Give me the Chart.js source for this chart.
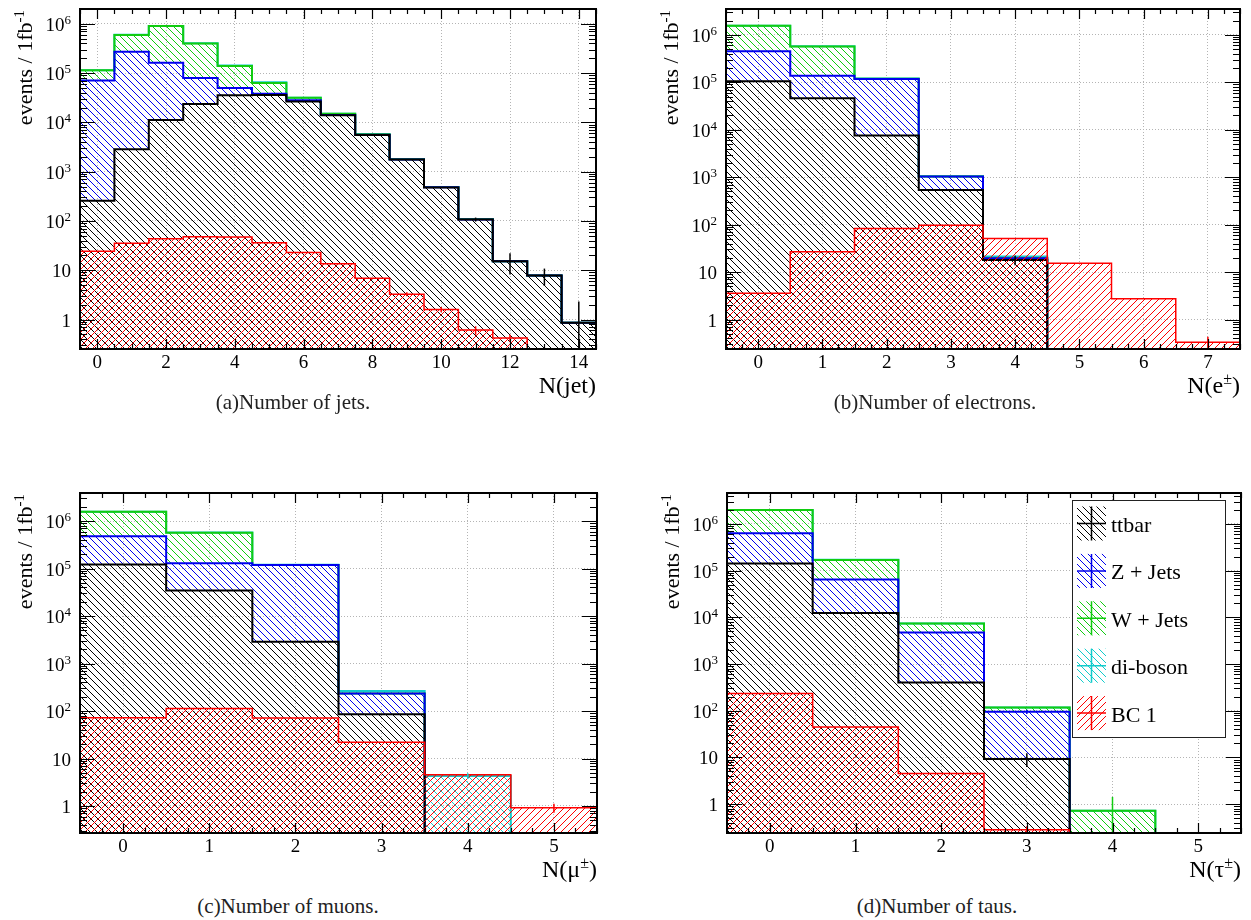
<!DOCTYPE html>
<html lang="en">
<head>
<meta charset="UTF-8">
<title>Object multiplicities</title>
<script src="https://cdn.jsdelivr.net/npm/chart.js"></script>
<style>
  body { margin: 0; background: #fff; }
  .page { position: relative; width: 1251px; height: 920px; overflow: hidden; }
  .page canvas { position: absolute; }
  .caption {
    position: absolute; width: 400px; text-align: center;
    font-family: 'Liberation Serif', serif; font-size: 21px; line-height: 21px; color: #222;
  }
</style>
</head>
<body>
<div class="page">
  <canvas id="jets" width="625" height="400" style="left:0;top:0"></canvas>
  <canvas id="electrons" width="626" height="400" style="left:625px;top:0"></canvas>
  <canvas id="muons" width="625" height="400" style="left:0;top:483px"></canvas>
  <canvas id="taus" width="626" height="400" style="left:625px;top:483px"></canvas>
  <div class="caption" style="left:93px;top:392px">(a)Number of jets.</div>
  <div class="caption" style="left:735px;top:392px">(b)Number of electrons.</div>
  <div class="caption" style="left:88px;top:896px">(c)Number of muons.</div>
  <div class="caption" style="left:737px;top:896px">(d)Number of taus.</div>
</div>

<script>
  // events / 1 fb-1 per bin, bins start at 0
  const processNames = ['ttbar', 'Z + Jets', 'W + Jets', 'di-boson', 'BC 1'];
  const decadeTicks = [1, 10, 100, 1e3, 1e4, 1e5, 1e6];

  // N(jet), bins 0..14
  const jetTicks   = [0, 2, 4, 6, 8, 10, 12, 14];
  const jetTtbar   = [258, 2850, 11200, 23700, 35500, 36000, 26400, 13900, 5580, 1760, 480, 107, 15.2, 7.8, 0.86];
  const jetZjets   = [70700, 270000, 152000, 56300, 14500, 2000, 1600, 300, 60, 10, 2, 0.3, 0, 0, 0];
  const jetWjets   = [43000, 323000, 743000, 320000, 90000, 25000, 3500, 700, 100, 25, 6, 2, 0, 0, 0];
  const jetDiboson = [300, 1500, 2500, 2000, 3000, 2000, 300, 60, 15, 4, 1, 0, 0, 0, 0];
  const jetBC1     = [24.3, 35.3, 43.4, 47.6, 47, 36, 23, 13.5, 6.9, 3.26, 1.6, 0.61, 0.42, 0, 0];
  const jetTtbarErr = [0, 0, 0, 0, 0, 0, 0, 0, 0, 0, 0, 10, 7, 3, 1.45];
  const jetBC1Err   = [0, 0, 0, 0, 0, 0, 0, 0, 0, 0.3, 0.2, 0.12, 0.07, 0, 0];
  const jetYRange   = [0.252, 2.0e6];

  // N(e), bins 0..7
  const eleTicks   = [0, 1, 2, 3, 4, 5, 6, 7];
  const eleTtbar   = [105000, 46000, 7580, 540, 18, 0, 0, 0];
  const eleZjets   = [343000, 92000, 110000, 490, 1.5, 0, 0, 0];
  const eleWjets   = [1110000, 432000, 1000, 0, 0, 0, 0, 0];
  const eleDiboson = [2500, 1500, 900, 20, 1.9, 0, 0, 0];
  const eleBC1     = [3.6, 26.8, 83, 97, 51, 15.3, 2.76, 0.335];
  const eleTtbarErr = [0, 0, 0, 0, 4, 0, 0, 0];
  const eleBC1Err   = [0, 0, 0, 0, 0, 0, 0, 0.1];
  const eleYRange   = [0.24, 3.5e6];

  // N(mu), bins 0..5
  const muTicks   = [0, 1, 2, 3, 4, 5];
  const muTtbar   = [122000, 34600, 2880, 85, 0, 0];
  const muZjets   = [358000, 95400, 116000, 150, 0, 0];
  const muWjets   = [1087000, 440000, 300, 0, 0, 0];
  const muDiboson = [3000, 2000, 500, 29, 4.3, 0];
  const muBC1     = [72, 113, 71, 22, 4.56, 0.92];
  const muDibosonErr = [0, 0, 0, 0, 0.6, 0];
  const muBC1Err     = [0, 0, 0, 0, 0, 0.2];
  const muYRange     = [0.27, 3.9e6];

  // N(tau), bins 0..5
  const tauTicks   = [0, 1, 2, 3, 4, 5];
  const tauTtbar   = [142000, 12300, 402, 9.2, 0, 0];
  const tauZjets   = [493000, 52200, 4330, 85.8, 0, 0];
  const tauWjets   = [1362000, 105000, 2600, 21.5, 0.72, 0];
  const tauDiboson = [3000, 600, 40, 0.5, 0, 0];
  const tauBC1     = [233, 45, 4.5, 0.28, 0, 0];
  const tauTtbarErr = [0, 0, 0, 3, 0, 0];
  const tauZjetsErr = [0, 0, 0, 10, 0, 0];
  const tauWjetsErr = [0, 0, 0, 0, 0.7, 0];
  const tauBC1Err   = [0, 0, 0, 0.05, 0, 0];
  const tauYRange   = [0.24, 4.6e6];

  // ---- styling ----
  const SERIF = '"Liberation Serif", "Times New Roman", serif';
  const FONT_TICK = '19px ' + SERIF;
  const FONT_TICK_SUP = '13px ' + SERIF;
  const FONT_YT = '22px ' + SERIF;
  const FONT_YT_SUP = '15px ' + SERIF;
  const FONT_XT = '24px ' + SERIF;
  const FONT_XT_SUP = '16px ' + SERIF;
  const FONT_LEGEND = '22px ' + SERIF;
  const GRID = '#b4b4b4';

  const looks = {
    ttbar:   { colour: '#000000', dir: '\\', width: 2 },
    zjets:   { colour: '#0000ee', dir: '\\', width: 2 },
    wjets:   { colour: '#11cc11', dir: '\\', width: 2 },
    diboson: { colour: '#11cccc', dir: '\\', width: 2 },
    bc1:     { colour: '#ff0000', dir: '/',  width: 1.5 }
  };

  // diagonal hatching like ROOT fill styles 3004/3005
  function hatch(colour, dir) {
    const s = 7;
    const c = document.createElement('canvas');
    c.width = c.height = s;
    const g = c.getContext('2d');
    g.strokeStyle = colour;
    g.lineWidth = 1;
    g.beginPath();
    for (const o of [-s, 0, s]) {
      if (dir === '\\') { g.moveTo(o, 0); g.lineTo(o + s, s); }
      else { g.moveTo(o, s); g.lineTo(o + s, 0); }
    }
    g.stroke();
    return g.createPattern(c, 'repeat');
  }

  // histogram outline: points at bin centres plus both outer edges, stepped in the middle
  function histPoints(values, floor) {
    const ys = values.map(v => (v > 0 ? v : floor));
    const pts = ys.map((y, i) => ({ x: i, y }));
    pts.unshift({ x: -0.5, y: ys[0] });
    pts.push({ x: ys.length - 0.5, y: ys[ys.length - 1] });
    return pts;
  }

  // text run with raised parts: [[text, font, rise], ...]
  function runText(ctx, parts, x, y, align) {
    let total = 0;
    for (const p of parts) { ctx.font = p[1]; total += ctx.measureText(p[0]).width; }
    let cx = align === 'right' ? x - total : align === 'center' ? x - total / 2 : x;
    ctx.textAlign = 'left';
    ctx.textBaseline = 'alphabetic';
    for (const p of parts) {
      ctx.font = p[1];
      ctx.fillText(p[0], cx, y - (p[2] || 0));
      cx += ctx.measureText(p[0]).width;
    }
  }

  // ROOT-like frame: inner ticks on all sides, labels, titles, error bars, legend
  function rootAxes(p) {
    return {
      id: 'rootAxes',
      afterDatasetsDraw(chart) {
        const { ctx, chartArea: a, scales: { x, y } } = chart;
        ctx.save();
        ctx.beginPath(); ctx.rect(a.left, a.top, a.width, a.height); ctx.clip();
        ctx.lineWidth = 1.5;
        chart.data.datasets.forEach(ds => {
          if (!ds.errors) return;
          ctx.strokeStyle = ds.borderColor;
          ds.errors.forEach((e, i) => {
            if (!e) return;
            const top = ds.tops[i];
            const px = x.getPixelForValue(i);
            const lo = top - e > 0 ? y.getPixelForValue(top - e) : a.bottom;
            const hi = y.getPixelForValue(top + e);
            ctx.beginPath(); ctx.moveTo(px, lo); ctx.lineTo(px, hi); ctx.stroke();
          });
        });
        ctx.restore();
      },
      afterDraw(chart) {
        const { ctx, chartArea: a, scales: { x, y } } = chart;
        ctx.save();
        ctx.strokeStyle = '#000';
        ctx.lineWidth = 1.2;
        ctx.beginPath();
        const step = x.ticks[1].value - x.ticks[0].value;
        const sub = step / 4;
        const k0 = Math.ceil(x.min / sub - 1e-9), k1 = Math.floor(x.max / sub + 1e-9);
        for (let k = k0; k <= k1; k++) {
          const px = Math.round(x.getPixelForValue(k * sub)) + 0.5;
          const len = k % 4 === 0 ? 10 : 5;
          ctx.moveTo(px, a.bottom); ctx.lineTo(px, a.bottom - len);
          ctx.moveTo(px, a.top); ctx.lineTo(px, a.top + len);
        }
        for (let e = Math.floor(Math.log10(y.min)); e <= Math.ceil(Math.log10(y.max)); e++) {
          for (let m = 1; m <= 9; m++) {
            const v = m * Math.pow(10, e);
            if (v < y.min || v > y.max) continue;
            const py = Math.round(y.getPixelForValue(v)) + 0.5;
            const len = m === 1 ? 15 : 7;
            ctx.moveTo(a.left, py); ctx.lineTo(a.left + len, py);
            ctx.moveTo(a.right, py); ctx.lineTo(a.right - len, py);
          }
        }
        ctx.stroke();
        ctx.lineWidth = 2;
        ctx.strokeRect(a.left, a.top, a.right - a.left, a.bottom - a.top);

        ctx.fillStyle = '#000';
        x.ticks.forEach(t => {
          runText(ctx, [[String(t.value), FONT_TICK]], x.getPixelForValue(t.value), a.bottom + 19, 'center');
        });
        y.ticks.forEach(t => {
          const ex = Math.round(Math.log10(t.value));
          const parts = ex === 0 ? [['1', FONT_TICK]]
            : ex === 1 ? [['10', FONT_TICK]]
            : [['10', FONT_TICK], [String(ex), FONT_TICK_SUP, 7]];
          runText(ctx, parts, a.left - 9, y.getPixelForValue(t.value) + 7, 'right');
        });

        runText(ctx, p.xTitle, a.right, a.bottom + 44, 'right');
        ctx.save();
        ctx.translate(a.left - 48, a.top + 1);
        ctx.rotate(-Math.PI / 2);
        runText(ctx, [['events / 1fb', FONT_YT], ['-1', FONT_YT_SUP, 8]], 0, 0, 'right');
        ctx.restore();

        if (p.legend) {
          const bx = a.left + 345, by = a.top + 7, bw = 153, bh = 237;
          ctx.fillStyle = '#fff';
          ctx.fillRect(bx, by, bw, bh);
          ctx.lineWidth = 1;
          ctx.strokeStyle = '#222';
          ctx.strokeRect(bx + 0.5, by + 0.5, bw, bh);
          // stack order first, signal last
          [1, 2, 3, 4, 0].forEach((di, r) => {
            const ds = chart.data.datasets[di];
            const cy = by + 23.5 + r * 47.4;
            const sx = bx + 5, sw = 29, sh = 34;
            ctx.fillStyle = ds.backgroundColor;
            ctx.fillRect(sx, cy - sh / 2, sw, sh);
            ctx.strokeStyle = ds.borderColor;
            ctx.lineWidth = 1.5;
            ctx.beginPath();
            ctx.moveTo(sx, cy); ctx.lineTo(sx + sw, cy);
            ctx.moveTo(sx + sw / 2, cy - sh / 2); ctx.lineTo(sx + sw / 2, cy + sh / 2);
            ctx.stroke();
            ctx.fillStyle = '#000';
            runText(ctx, [[ds.label, FONT_LEGEND]], bx + 39, cy + 8.5, 'left');
          });
        }
        ctx.restore();
      }
    };
  }

  function drawPanel(id, p) {
    const canvas = document.getElementById(id);
    const n = p.ttbar.length;
    const floor = p.yRange[0];

    // cumulative stack: ttbar, Z + Jets, W + Jets, di-boson
    const tops = [];
    let run = new Array(n).fill(0);
    [p.ttbar, p.zjets, p.wjets, p.diboson].forEach(layer => {
      run = run.map((v, i) => v + layer[i]);
      tops.push(run);
    });

    const sample = (key, label, values, fill, errors) => ({
      label,
      data: histPoints(values, floor),
      borderColor: looks[key].colour,
      backgroundColor: hatch(looks[key].colour, looks[key].dir),
      borderWidth: looks[key].width,
      fill,
      stepped: 'middle',
      pointRadius: 0,
      tops: values,
      errors
    });

    new Chart(canvas, {
      type: 'line',
      data: {
        datasets: [
          sample('bc1', processNames[4], p.bc1, 'start', p.bc1Err),
          sample('ttbar', processNames[0], tops[0], 'start', p.ttbarErr),
          sample('zjets', processNames[1], tops[1], '-1', p.zjetsErr),
          sample('wjets', processNames[2], tops[2], '-1', p.wjetsErr),
          sample('diboson', processNames[3], tops[3], '-1', p.dibosonErr)
        ]
      },
      options: {
        responsive: false,
        animation: false,
        events: [],
        layout: { padding: { left: 0, top: p.area.top, right: canvas.width - p.area.right, bottom: 0 } },
        plugins: { legend: { display: false }, tooltip: { enabled: false } },
        scales: {
          x: {
            type: 'linear', min: -0.5, max: n - 0.5,
            afterBuildTicks: s => { s.ticks = p.xTicks.map(v => ({ value: v })); },
            afterFit: s => { s.height = canvas.height - p.area.bottom; },
            ticks: { display: false },
            grid: { drawTicks: false, color: GRID, lineWidth: 1 },
            border: { display: false, dash: [1, 2] }
          },
          y: {
            type: 'logarithmic', min: p.yRange[0], max: p.yRange[1],
            afterBuildTicks: s => { s.ticks = decadeTicks.map(v => ({ value: v })); },
            afterFit: s => { s.width = p.area.left; },
            ticks: { display: false },
            grid: { drawTicks: false, color: GRID, lineWidth: 1 },
            border: { display: false, dash: [1, 2] }
          }
        }
      },
      plugins: [rootAxes(p)]
    });
  }

  drawPanel('jets', {
    ttbar: jetTtbar, zjets: jetZjets, wjets: jetWjets, diboson: jetDiboson, bc1: jetBC1,
    ttbarErr: jetTtbarErr, bc1Err: jetBC1Err,
    xTicks: jetTicks, yRange: jetYRange,
    area: { left: 80, top: 9, right: 596, bottom: 349 },
    xTitle: [['N(jet)', FONT_XT]]
  });
  drawPanel('electrons', {
    ttbar: eleTtbar, zjets: eleZjets, wjets: eleWjets, diboson: eleDiboson, bc1: eleBC1,
    ttbarErr: eleTtbarErr, bc1Err: eleBC1Err,
    xTicks: eleTicks, yRange: eleYRange,
    area: { left: 101, top: 9, right: 615, bottom: 349 },
    xTitle: [['N(e', FONT_XT], ['\u00b1', FONT_XT_SUP, 9], [')', FONT_XT]]
  });
  drawPanel('muons', {
    ttbar: muTtbar, zjets: muZjets, wjets: muWjets, diboson: muDiboson, bc1: muBC1,
    dibosonErr: muDibosonErr, bc1Err: muBC1Err,
    xTicks: muTicks, yRange: muYRange,
    area: { left: 80, top: 10, right: 597, bottom: 350 },
    xTitle: [['N(\u03bc', FONT_XT], ['\u00b1', FONT_XT_SUP, 9], [')', FONT_XT]]
  });
  drawPanel('taus', {
    ttbar: tauTtbar, zjets: tauZjets, wjets: tauWjets, diboson: tauDiboson, bc1: tauBC1,
    ttbarErr: tauTtbarErr, zjetsErr: tauZjetsErr, wjetsErr: tauWjetsErr, bc1Err: tauBC1Err,
    xTicks: tauTicks, yRange: tauYRange,
    area: { left: 102, top: 10, right: 616, bottom: 350 },
    xTitle: [['N(\u03c4', FONT_XT], ['\u00b1', FONT_XT_SUP, 9], [')', FONT_XT]],
    legend: true
  });
</script>
</body>
</html>
